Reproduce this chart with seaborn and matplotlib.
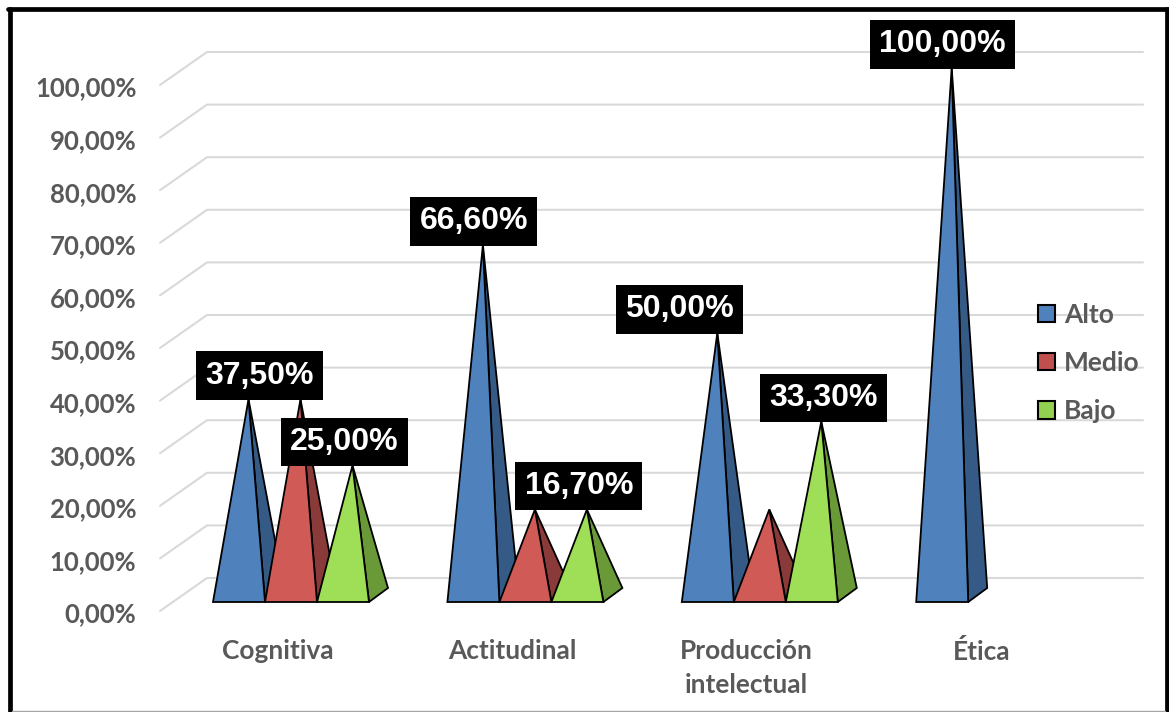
import pandas as pd
import matplotlib
matplotlib.use('Agg')
import matplotlib.pyplot as plt
import matplotlib.transforms as mtrans
from matplotlib.lines import Line2D
from matplotlib.patches import Patch
import seaborn as sns

# Data
categories = ['Cognitiva', 'Actitudinal', 'Producción\nintelectual', 'Ética']
alto = [37.5, 66.6, 50.0, 100.0]
medio = [37.5, 16.7, 16.7, None]
bajo = [25.0, 16.7, 33.3, None]
series_names = ['Alto', 'Medio', 'Bajo']
y_ticks = [0, 10, 20, 30, 40, 50, 60, 70, 80, 90, 100]

# Which labels are shown, and their sideways shift in pixels
shown_labels = {
    ('Alto', 0): 11, ('Bajo', 0): -8,
    ('Alto', 1): -9, ('Bajo', 1): -8,
    ('Alto', 2): -38, ('Bajo', 2): 2,
    ('Alto', 3): -9,
}

W, H = 1169, 712
GREY = '#595959'
front = {'Alto': '#4F81BD', 'Medio': '#CF5A56', 'Bajo': '#9EDF57'}
side = {'Alto': '#355A85', 'Medio': '#8B3A3A', 'Bajo': '#6A9A38'}
legend_col = {'Alto': '#4F81BD', 'Medio': '#C0504D', 'Bajo': '#92D050'}

sns.set_theme(style='white')
plt.rcParams['font.family'] = ['Lato', 'DejaVu Sans']

df = pd.DataFrame({'cat': categories, 'Alto': alto, 'Medio': medio, 'Bajo': bajo})
long_df = df.melt(id_vars='cat', var_name='nivel', value_name='pct')

fig = plt.figure(figsize=(W / 100, H / 100), dpi=100)
left, right, bottom, top = 160, 1143, 611, 52
pos = [left / W, 1 - bottom / H, (right - left) / W, (bottom - top) / H]

# Back axes: walls and percent labels
ax = fig.add_axes(pos)
wall_scale = 5.26
ax.set_ylim(0, (bottom - top) / wall_scale)
ax.set_xlim(0, 1)
ax.set_xticks([])
ax.set_yticks(y_ticks)
ax.set_yticklabels([f'{t:.2f}%'.replace('.', ',') for t in y_ticks],
                   fontsize=18.5, fontweight='bold', color=GREY)
ax.tick_params(axis='y', length=0, pad=17)
shift_tick = mtrans.ScaledTranslation(0, -1.5 / 100, fig.dpi_scale_trans)
for lab in ax.get_yticklabels():
    lab.set_transform(lab.get_transform() + shift_tick)
sns.despine(ax=ax, left=True, bottom=True)
depth_x = 47 / (right - left)
depth_y = 33 / wall_scale
for t in y_ticks:
    ax.plot([0, depth_x, 1], [t, t + depth_y, t + depth_y], color='#D9D9D9',
            lw=1.5, solid_joinstyle='miter', clip_on=False, zorder=1)

# Front axes: the pyramids, positioned by seaborn's bars
ax2 = fig.add_axes(pos, frameon=False)
bar_scale = 5.3
base_gap = bottom - 602
sns.barplot(data=long_df, x='cat', y='pct', hue='nivel', hue_order=series_names,
            order=categories, width=0.6655, gap=0, legend=False, ax=ax2)
cat_px = 234.4
ax2.set_xlim((left - 291) / cat_px, (right - 291) / cat_px)
ax2.set_ylim(-base_gap / bar_scale, (602 - top) / bar_scale)
ax2.set_xlabel('')
ax2.set_ylabel('')
ax2.tick_params(left=False, labelleft=False, bottom=False)
ax2.tick_params(axis='x', pad=14, labelsize=18.9)

shift_lab = mtrans.ScaledTranslation(-13 / 100, 0, fig.dpi_scale_trans)
for lab in ax2.get_xticklabels():
    lab.set_fontweight('bold')
    lab.set_color(GREY)
    lab.set_linespacing(1.5)
    lab.set_transform(lab.get_transform() + shift_lab)

dx_side = 19 / cat_px
dy_side = 14 / bar_scale
apex_lift = 4 / bar_scale  # the tips stand a little above the value
for i, name in enumerate(series_names):
    for j, bar in enumerate(ax2.containers[i]):
        h = bar.get_height()
        if not h > 0:
            bar.set_visible(False)
            continue
        x0, w = bar.get_x(), bar.get_width()
        bar.set_visible(False)
        x1 = x0 + w
        apex_x = x0 + (w + dx_side) / 2
        apex_y = h + apex_lift
        z = 3 + i
        ax2.fill([x1, x1 + dx_side, apex_x], [0, dy_side, apex_y], facecolor=side[name],
                 edgecolor='black', lw=1.3, joinstyle='miter', zorder=z)
        ax2.fill([x0, x1, apex_x], [0, 0, apex_y], facecolor=front[name],
                 edgecolor='black', lw=1.3, joinstyle='miter', zorder=z)
        if (name, j) in shown_labels:
            ax2.annotate(f'{h:.2f}%'.replace('.', ','), (apex_x, apex_y),
                         xytext=(shown_labels[(name, j)] * 0.72, 17),
                         textcoords='offset points', ha='center', va='center',
                         fontsize=23, fontweight='bold', color='white',
                         family=['Liberation Sans'], zorder=10,
                         bbox=dict(boxstyle='square,pad=0.29', fc='black', ec='none'),
                         annotation_clip=False)

# Legend
handles = [Patch(facecolor=legend_col[n], edgecolor='black', lw=1.5, label=n)
           for n in series_names]
leg = fig.legend(handles=handles, loc='center left',
                 bbox_to_anchor=(1038 / W, 1 - 363 / H), frameon=False,
                 handlelength=0.64, handleheight=0.62, handletextpad=0.35,
                 labelspacing=0.92, borderpad=0, borderaxespad=0,
                 prop={'family': 'Lato', 'weight': 'bold', 'size': 19})
for txt in leg.get_texts():
    txt.set_color(GREY)

# Outer frame
frame = [([10, 10], [712, 8.5]), ([8, 1169], [8.5, 8.5]), ([1167, 1167], [8.5, 712])]
for xs, ys in frame:
    fig.add_artist(Line2D([x / W for x in xs], [1 - y / H for y in ys],
                          color='black', lw=3.4, transform=fig.transFigure))
fig.add_artist(Line2D([12 / W, 1165 / W], [1 - 710.5 / H] * 2, color='#A6A6A6', lw=1,
                      transform=fig.transFigure))

fig.savefig('out.png', dpi=100)
